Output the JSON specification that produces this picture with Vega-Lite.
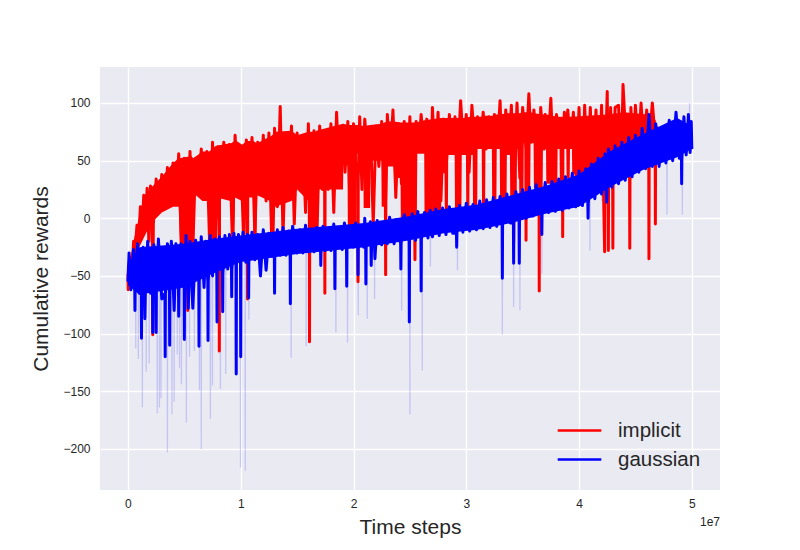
{"$schema":"https://vega.github.io/schema/vega-lite/v6.json","autosize":"none","width":620,"height":423,"padding":{"left":100,"top":67,"right":80,"bottom":60},"background":"white","config":{"view":{"fill":"#EAEAF2","stroke":null},"font":"Liberation Sans","axis":{"domain":false,"ticks":false,"grid":true,"gridColor":"white","gridWidth":1.3,"labelColor":"#262626","labelFontSize":12,"titleColor":"#262626","titleFontSize":21,"titleFontWeight":"normal","labelFont":"Liberation Sans","titleFont":"Liberation Sans"}},
"datasets":{
"thin":[{"x":0.067,"y":-40},{"x":0.069,"y":-113},{"x":0.071,"y":-40},{"x":0.09,"y":-40},{"x":0.092,"y":-122},{"x":0.094,"y":-40},{"x":0.126,"y":-40},{"x":0.128,"y":-164},{"x":0.13,"y":-40},{"x":0.16,"y":-40},{"x":0.162,"y":-133},{"x":0.164,"y":-40},{"x":0.186,"y":-40},{"x":0.188,"y":-126},{"x":0.19,"y":-40},{"x":0.258,"y":-40},{"x":0.26,"y":-169},{"x":0.262,"y":-40},{"x":0.277,"y":-40},{"x":0.279,"y":-164},{"x":0.281,"y":-40},{"x":0.291,"y":-40},{"x":0.293,"y":-156},{"x":0.295,"y":-40},{"x":0.348,"y":-40},{"x":0.35,"y":-203},{"x":0.352,"y":-40},{"x":0.388,"y":-40},{"x":0.39,"y":-170},{"x":0.392,"y":-40},{"x":0.408,"y":-40},{"x":0.41,"y":-159},{"x":0.412,"y":-40},{"x":0.435,"y":-40},{"x":0.437,"y":-118},{"x":0.439,"y":-40},{"x":0.455,"y":-40},{"x":0.457,"y":-130},{"x":0.459,"y":-40},{"x":0.472,"y":-40},{"x":0.474,"y":-144},{"x":0.476,"y":-40},{"x":0.516,"y":-40},{"x":0.518,"y":-177},{"x":0.52,"y":-40},{"x":0.544,"y":-40},{"x":0.546,"y":-120},{"x":0.548,"y":-40},{"x":0.587,"y":-40},{"x":0.589,"y":-115},{"x":0.591,"y":-40},{"x":0.632,"y":-40},{"x":0.634,"y":-149},{"x":0.636,"y":-40},{"x":0.648,"y":-40},{"x":0.65,"y":-200},{"x":0.652,"y":-40},{"x":0.729,"y":-30},{"x":0.731,"y":-174},{"x":0.733,"y":-30},{"x":0.747,"y":-30},{"x":0.749,"y":-145},{"x":0.751,"y":-30},{"x":0.818,"y":-30},{"x":0.82,"y":-148},{"x":0.822,"y":-30},{"x":0.865,"y":-30},{"x":0.867,"y":-135},{"x":0.869,"y":-30},{"x":0.951,"y":-30},{"x":0.953,"y":-118},{"x":0.955,"y":-30},{"x":0.996,"y":-25},{"x":0.998,"y":-216},{"x":1.0,"y":-25},{"x":1.038,"y":-25},{"x":1.04,"y":-219},{"x":1.042,"y":-25},{"x":1.07,"y":-25},{"x":1.072,"y":-88},{"x":1.074,"y":-25},{"x":1.445,"y":-20},{"x":1.447,"y":-121},{"x":1.449,"y":-20},{"x":1.578,"y":-20},{"x":1.58,"y":-111},{"x":1.582,"y":-20},{"x":1.842,"y":-20},{"x":1.844,"y":-99},{"x":1.846,"y":-20},{"x":1.945,"y":-20},{"x":1.947,"y":-108},{"x":1.949,"y":-20},{"x":2.04,"y":-15},{"x":2.042,"y":-84},{"x":2.044,"y":-15},{"x":2.12,"y":-15},{"x":2.122,"y":-87},{"x":2.124,"y":-15},{"x":2.185,"y":-15},{"x":2.187,"y":-70},{"x":2.189,"y":-15},{"x":2.425,"y":-10},{"x":2.427,"y":-80},{"x":2.429,"y":-10},{"x":2.498,"y":-10},{"x":2.5,"y":-170},{"x":2.502,"y":-10},{"x":2.608,"y":-5},{"x":2.61,"y":-132},{"x":2.612,"y":-5},{"x":2.68,"y":-5},{"x":2.682,"y":-42},{"x":2.684,"y":-5},{"x":2.92,"y":0},{"x":2.922,"y":-45},{"x":2.924,"y":0},{"x":3.318,"y":10},{"x":3.32,"y":-101},{"x":3.322,"y":10},{"x":3.418,"y":10},{"x":3.42,"y":-77},{"x":3.422,"y":10},{"x":3.474,"y":15},{"x":3.476,"y":-80},{"x":3.478,"y":15},{"x":3.668,"y":20},{"x":3.67,"y":-48},{"x":3.672,"y":20},{"x":4.095,"y":35},{"x":4.097,"y":-28},{"x":4.099,"y":35},{"x":4.2,"y":50},{"x":4.202,"y":15},{"x":4.204,"y":50},{"x":4.4,"y":60},{"x":4.402,"y":82},{"x":4.404,"y":60},{"x":4.55,"y":60},{"x":4.552,"y":92},{"x":4.554,"y":60},{"x":4.778,"y":70},{"x":4.78,"y":3},{"x":4.782,"y":70},{"x":4.914,"y":70},{"x":4.916,"y":3},{"x":4.918,"y":70},{"x":4.978,"y":70},{"x":4.98,"y":100},{"x":4.982,"y":70}],
"redband":[{"x":0,"y":-45,"y2":-55},{"x":0.05,"y":-20,"y2":-45},{"x":0.1,"y":2,"y2":-25},{"x":0.15,"y":20,"y2":-15},{"x":0.2,"y":26,"y2":-5},{"x":0.3,"y":36,"y2":5},{"x":0.4,"y":48,"y2":10},{"x":0.45,"y":52,"y2":10},{"x":0.46,"y":52,"y2":-22},{"x":0.56,"y":54,"y2":-25},{"x":0.58,"y":52,"y2":22},{"x":0.66,"y":58,"y2":15},{"x":0.715,"y":58,"y2":15},{"x":0.72,"y":58,"y2":-25},{"x":0.78,"y":63,"y2":-25},{"x":0.785,"y":63,"y2":18},{"x":0.91,"y":65,"y2":15},{"x":0.915,"y":65,"y2":-15},{"x":0.945,"y":67,"y2":-15},{"x":0.95,"y":68,"y2":18},{"x":1.01,"y":64,"y2":15},{"x":1.015,"y":64,"y2":-22},{"x":1.04,"y":66,"y2":-22},{"x":1.045,"y":67,"y2":18},{"x":1.11,"y":67,"y2":18},{"x":1.115,"y":67,"y2":-15},{"x":1.14,"y":65,"y2":-15},{"x":1.145,"y":65,"y2":20},{"x":1.26,"y":71,"y2":15},{"x":1.265,"y":71,"y2":-15},{"x":1.3,"y":74,"y2":-15},{"x":1.305,"y":75,"y2":10},{"x":1.45,"y":76,"y2":15},{"x":1.5,"y":72,"y2":25},{"x":1.6,"y":75,"y2":15},{"x":1.605,"y":75,"y2":-15},{"x":1.667,"y":75,"y2":-15},{"x":1.67,"y":76,"y2":25},{"x":1.907,"y":82,"y2":25},{"x":1.91,"y":82,"y2":46},{"x":1.947,"y":81,"y2":46},{"x":1.95,"y":81,"y2":-10},{"x":2.027,"y":81,"y2":-10},{"x":2.03,"y":81,"y2":56},{"x":2.087,"y":80,"y2":56},{"x":2.09,"y":80,"y2":9},{"x":2.147,"y":81,"y2":9},{"x":2.15,"y":81,"y2":50},{"x":2.247,"y":82,"y2":50},{"x":2.25,"y":82,"y2":10},{"x":2.297,"y":84,"y2":10},{"x":2.3,"y":84,"y2":45},{"x":2.357,"y":84,"y2":45},{"x":2.36,"y":84,"y2":35},{"x":2.417,"y":83,"y2":35},{"x":2.42,"y":83,"y2":-3},{"x":2.557,"y":83,"y2":-3},{"x":2.56,"y":83,"y2":56},{"x":2.627,"y":85,"y2":56},{"x":2.63,"y":85,"y2":3},{"x":2.777,"y":87,"y2":3},{"x":2.78,"y":87,"y2":39},{"x":2.807,"y":87,"y2":39},{"x":2.81,"y":87,"y2":3},{"x":2.837,"y":87,"y2":3},{"x":2.84,"y":87,"y2":55},{"x":2.897,"y":87,"y2":55},{"x":2.9,"y":87,"y2":8},{"x":2.957,"y":87,"y2":8},{"x":2.96,"y":87,"y2":55},{"x":2.997,"y":87,"y2":55},{"x":3.0,"y":87,"y2":8},{"x":3.027,"y":88,"y2":8},{"x":3.03,"y":88,"y2":55},{"x":3.057,"y":88,"y2":55},{"x":3.06,"y":88,"y2":10},{"x":3.097,"y":88,"y2":10},{"x":3.1,"y":88,"y2":60},{"x":3.137,"y":88,"y2":60},{"x":3.14,"y":88,"y2":12},{"x":3.167,"y":89,"y2":12},{"x":3.17,"y":89,"y2":60},{"x":3.227,"y":89,"y2":60},{"x":3.23,"y":89,"y2":15},{"x":3.267,"y":90,"y2":15},{"x":3.27,"y":90,"y2":60},{"x":3.297,"y":90,"y2":60},{"x":3.3,"y":90,"y2":15},{"x":3.357,"y":91,"y2":15},{"x":3.36,"y":91,"y2":55},{"x":3.387,"y":91,"y2":55},{"x":3.39,"y":91,"y2":18},{"x":3.447,"y":91,"y2":18},{"x":3.45,"y":91,"y2":60},{"x":3.467,"y":91,"y2":60},{"x":3.47,"y":91,"y2":22},{"x":3.507,"y":92,"y2":22},{"x":3.51,"y":92,"y2":65},{"x":3.537,"y":92,"y2":65},{"x":3.54,"y":92,"y2":24},{"x":3.567,"y":92,"y2":24},{"x":3.57,"y":92,"y2":65},{"x":3.597,"y":91,"y2":65},{"x":3.6,"y":91,"y2":26},{"x":3.677,"y":90,"y2":26},{"x":3.68,"y":90,"y2":60},{"x":3.707,"y":90,"y2":60},{"x":3.71,"y":90,"y2":30},{"x":3.807,"y":88,"y2":30},{"x":3.81,"y":88,"y2":60},{"x":3.827,"y":88,"y2":60},{"x":3.83,"y":88,"y2":32},{"x":3.857,"y":88,"y2":32},{"x":3.86,"y":88,"y2":60},{"x":3.887,"y":88,"y2":60},{"x":3.89,"y":88,"y2":35},{"x":3.917,"y":88,"y2":35},{"x":3.92,"y":88,"y2":60},{"x":3.937,"y":88,"y2":60},{"x":3.94,"y":88,"y2":38},{"x":4.25,"y":90,"y2":40},{"x":4.4,"y":92,"y2":50},{"x":4.6,"y":90,"y2":62},{"x":4.68,"y":85,"y2":70}],
"blueband":[{"x":0,"y":-40,"y2":-58},{"x":0.1,"y":-25,"y2":-66},{"x":0.5,"y":-22,"y2":-60},{"x":0.75,"y":-18,"y2":-48},{"x":1,"y":-15,"y2":-38},{"x":1.5,"y":-9,"y2":-31},{"x":2.1,"y":-4,"y2":-25},{"x":2.5,"y":2,"y2":-19},{"x":2.8,"y":8,"y2":-13},{"x":3.1,"y":12,"y2":-10},{"x":3.4,"y":20,"y2":-4},{"x":3.7,"y":28,"y2":4},{"x":4,"y":38,"y2":10},{"x":4.27,"y":58,"y2":27},{"x":4.57,"y":73,"y2":42},{"x":4.87,"y":87,"y2":53},{"x":5,"y":80,"y2":60}],
"red":[{"x":0,"y":-48},{"x":0.002,"y":-62},{"x":0.004,"y":-42},{"x":0.02,"y":-34},{"x":0.035,"y":-50},{"x":0.05,"y":-20},{"x":0.065,"y":-25},{"x":0.08,"y":-6},{"x":0.095,"y":-22},{"x":0.11,"y":10},{"x":0.125,"y":-8},{"x":0.14,"y":20},{"x":0.155,"y":-3},{"x":0.17,"y":26},{"x":0.185,"y":-20},{"x":0.2,"y":28},{"x":0.215,"y":-5},{"x":0.22,"y":-101},{"x":0.225,"y":-5},{"x":0.25,"y":34},{"x":0.275,"y":8},{"x":0.3,"y":38},{"x":0.325,"y":8},{"x":0.35,"y":44},{"x":0.375,"y":12},{"x":0.4,"y":48},{"x":0.425,"y":12},{"x":0.45,"y":56},{"x":0.475,"y":-25},{"x":0.5,"y":52},{"x":0.525,"y":-25},{"x":0.53,"y":-80},{"x":0.535,"y":-25},{"x":0.55,"y":58},{"x":0.575,"y":-28},{"x":0.6,"y":52},{"x":0.625,"y":22},{"x":0.65,"y":60},{"x":0.675,"y":18},{"x":0.7,"y":58},{"x":0.725,"y":-25},{"x":0.75,"y":66},{"x":0.775,"y":-20},{"x":0.8,"y":62},{"x":0.808,"y":18},{"x":0.81,"y":-115},{"x":0.812,"y":18},{"x":0.85,"y":66},{"x":0.875,"y":18},{"x":0.9,"y":64},{"x":0.925,"y":-15},{"x":0.95,"y":72},{"x":0.975,"y":20},{"x":1.0,"y":62},{"x":1.025,"y":-20},{"x":1.05,"y":68},{"x":1.058,"y":20},{"x":1.06,"y":-70},{"x":1.062,"y":20},{"x":1.1,"y":70},{"x":1.125,"y":-15},{"x":1.15,"y":66},{"x":1.175,"y":25},{"x":1.2,"y":72},{"x":1.225,"y":15},{"x":1.25,"y":74},{"x":1.275,"y":-20},{"x":1.3,"y":78},{"x":1.325,"y":10},{"x":1.35,"y":97},{"x":1.375,"y":-15},{"x":1.4,"y":70},{"x":1.425,"y":20},{"x":1.45,"y":80},{"x":1.475,"y":-5},{"x":1.5,"y":74},{"x":1.525,"y":30},{"x":1.55,"y":70},{"x":1.575,"y":5},{"x":1.6,"y":82},{"x":1.608,"y":20},{"x":1.61,"y":-107},{"x":1.612,"y":20},{"x":1.65,"y":76},{"x":1.675,"y":-20},{"x":1.7,"y":80},{"x":1.725,"y":25},{"x":1.744,"y":25},{"x":1.746,"y":-65},{"x":1.748,"y":25},{"x":1.76,"y":74},{"x":1.775,"y":25},{"x":1.8,"y":82},{"x":1.825,"y":5},{"x":1.85,"y":92},{"x":1.875,"y":30},{"x":1.9,"y":78},{"x":1.925,"y":40},{"x":1.95,"y":84},{"x":1.975,"y":-15},{"x":2.0,"y":82},{"x":2.025,"y":35},{"x":2.038,"y":35},{"x":2.04,"y":-55},{"x":2.042,"y":35},{"x":2.055,"y":88},{"x":2.075,"y":25},{"x":2.1,"y":86},{"x":2.125,"y":50},{"x":2.15,"y":78},{"x":2.175,"y":-5},{"x":2.2,"y":80},{"x":2.225,"y":45},{"x":2.25,"y":84},{"x":2.275,"y":15},{"x":2.283,"y":15},{"x":2.285,"y":-49},{"x":2.287,"y":15},{"x":2.3,"y":90},{"x":2.325,"y":50},{"x":2.35,"y":94},{"x":2.375,"y":18},{"x":2.4,"y":82},{"x":2.425,"y":30},{"x":2.45,"y":84},{"x":2.475,"y":25},{"x":2.5,"y":88},{"x":2.525,"y":-10},{"x":2.543,"y":-10},{"x":2.545,"y":-36},{"x":2.547,"y":-10},{"x":2.555,"y":84},{"x":2.575,"y":58},{"x":2.6,"y":90},{"x":2.625,"y":58},{"x":2.65,"y":86},{"x":2.675,"y":0},{"x":2.7,"y":96},{"x":2.725,"y":45},{"x":2.75,"y":92},{"x":2.775,"y":15},{"x":2.8,"y":86},{"x":2.825,"y":50},{"x":2.85,"y":90},{"x":2.875,"y":60},{"x":2.9,"y":88},{"x":2.925,"y":52},{"x":2.95,"y":102},{"x":2.975,"y":60},{"x":3.0,"y":90},{"x":3.025,"y":40},{"x":3.05,"y":98},{"x":3.075,"y":62},{"x":3.1,"y":88},{"x":3.125,"y":62},{"x":3.15,"y":92},{"x":3.175,"y":60},{"x":3.2,"y":88},{"x":3.225,"y":62},{"x":3.25,"y":90},{"x":3.275,"y":62},{"x":3.3,"y":102},{"x":3.325,"y":20},{"x":3.35,"y":94},{"x":3.375,"y":58},{"x":3.4,"y":98},{"x":3.418,"y":30},{"x":3.42,"y":-21},{"x":3.422,"y":30},{"x":3.45,"y":100},{"x":3.475,"y":35},{"x":3.5,"y":96},{"x":3.525,"y":66},{"x":3.528,"y":60},{"x":3.53,"y":-19},{"x":3.532,"y":60},{"x":3.555,"y":108},{"x":3.575,"y":66},{"x":3.6,"y":94},{"x":3.625,"y":50},{"x":3.645,"y":50},{"x":3.647,"y":-63},{"x":3.649,"y":50},{"x":3.66,"y":96},{"x":3.69,"y":60},{"x":3.7,"y":90},{"x":3.725,"y":60},{"x":3.75,"y":104},{"x":3.775,"y":40},{"x":3.8,"y":90},{"x":3.82,"y":62},{"x":3.853,"y":60},{"x":3.855,"y":-16},{"x":3.857,"y":60},{"x":3.87,"y":92},{"x":3.875,"y":62},{"x":3.9,"y":94},{"x":3.925,"y":62},{"x":3.95,"y":92},{"x":3.975,"y":35},{"x":4.0,"y":96},{"x":4.025,"y":25},{"x":4.05,"y":98},{"x":4.075,"y":30},{"x":4.1,"y":96},{"x":4.125,"y":30},{"x":4.15,"y":94},{"x":4.175,"y":40},{"x":4.2,"y":98},{"x":4.215,"y":35},{"x":4.227,"y":-29},{"x":4.229,"y":35},{"x":4.25,"y":110},{"x":4.258,"y":30},{"x":4.26,"y":-28},{"x":4.262,"y":30},{"x":4.28,"y":96},{"x":4.298,"y":40},{"x":4.3,"y":-26},{"x":4.302,"y":40},{"x":4.32,"y":96},{"x":4.35,"y":98},{"x":4.375,"y":45},{"x":4.39,"y":116},{"x":4.425,"y":50},{"x":4.448,"y":45},{"x":4.45,"y":-26},{"x":4.452,"y":45},{"x":4.46,"y":96},{"x":4.475,"y":45},{"x":4.5,"y":98},{"x":4.525,"y":55},{"x":4.55,"y":100},{"x":4.575,"y":60},{"x":4.6,"y":94},{"x":4.618,"y":65},{"x":4.62,"y":-35},{"x":4.622,"y":65},{"x":4.65,"y":100},{"x":4.675,"y":70},{"x":4.677,"y":-5},{"x":4.679,"y":70},{"x":4.69,"y":80}],
"blue":[{"x":0,"y":-55},{"x":0.01,"y":-30},{"x":0.025,"y":-62},{"x":0.05,"y":-27},{"x":0.06,"y":-60},{"x":0.062,"y":-80},{"x":0.064,"y":-60},{"x":0.085,"y":-22},{"x":0.1,"y":-65},{"x":0.118,"y":-60},{"x":0.12,"y":-104},{"x":0.122,"y":-60},{"x":0.135,"y":-25},{"x":0.145,"y":-60},{"x":0.15,"y":-87},{"x":0.155,"y":-60},{"x":0.175,"y":-20},{"x":0.2,"y":-65},{"x":0.218,"y":-62},{"x":0.22,"y":-99},{"x":0.222,"y":-62},{"x":0.23,"y":-23},{"x":0.248,"y":-62},{"x":0.25,"y":-99},{"x":0.252,"y":-62},{"x":0.27,"y":-18},{"x":0.3,"y":-70},{"x":0.328,"y":-65},{"x":0.33,"y":-120},{"x":0.332,"y":-65},{"x":0.35,"y":-22},{"x":0.368,"y":-65},{"x":0.37,"y":-110},{"x":0.372,"y":-65},{"x":0.385,"y":-20},{"x":0.41,"y":-80},{"x":0.425,"y":-22},{"x":0.448,"y":-62},{"x":0.45,"y":-85},{"x":0.452,"y":-62},{"x":0.47,"y":-22},{"x":0.498,"y":-60},{"x":0.5,"y":-105},{"x":0.502,"y":-60},{"x":0.515,"y":-15},{"x":0.535,"y":-78},{"x":0.55,"y":-20},{"x":0.575,"y":-78},{"x":0.6,"y":-19},{"x":0.628,"y":-55},{"x":0.63,"y":-111},{"x":0.632,"y":-55},{"x":0.65,"y":-16},{"x":0.675,"y":-60},{"x":0.69,"y":-20},{"x":0.708,"y":-55},{"x":0.71,"y":-106},{"x":0.712,"y":-55},{"x":0.73,"y":-15},{"x":0.75,"y":-50},{"x":0.77,"y":-18},{"x":0.788,"y":-50},{"x":0.79,"y":-90},{"x":0.792,"y":-50},{"x":0.81,"y":-16},{"x":0.838,"y":-48},{"x":0.84,"y":-81},{"x":0.842,"y":-48},{"x":0.86,"y":-15},{"x":0.885,"y":-44},{"x":0.9,"y":-14},{"x":0.918,"y":-44},{"x":0.92,"y":-68},{"x":0.922,"y":-44},{"x":0.94,"y":-13},{"x":0.958,"y":-40},{"x":0.96,"y":-135},{"x":0.962,"y":-40},{"x":0.98,"y":-14},{"x":0.998,"y":-38},{"x":1.0,"y":-120},{"x":1.002,"y":-38},{"x":1.02,"y":-12},{"x":1.045,"y":-38},{"x":1.06,"y":-14},{"x":1.068,"y":-38},{"x":1.07,"y":-69},{"x":1.072,"y":-38},{"x":1.1,"y":-12},{"x":1.125,"y":-36},{"x":1.15,"y":-14},{"x":1.175,"y":-50},{"x":1.2,"y":-10},{"x":1.225,"y":-45},{"x":1.25,"y":-13},{"x":1.275,"y":-33},{"x":1.298,"y":-33},{"x":1.3,"y":-65},{"x":1.302,"y":-33},{"x":1.325,"y":-10},{"x":1.35,"y":-32},{"x":1.375,"y":-8},{"x":1.4,"y":-32},{"x":1.425,"y":-11},{"x":1.438,"y":-31},{"x":1.44,"y":-74},{"x":1.442,"y":-31},{"x":1.46,"y":-7},{"x":1.5,"y":-30},{"x":1.525,"y":-10},{"x":1.55,"y":-30},{"x":1.575,"y":-6},{"x":1.6,"y":-29},{"x":1.625,"y":-10},{"x":1.65,"y":-29},{"x":1.675,"y":-8},{"x":1.708,"y":-29},{"x":1.71,"y":-41},{"x":1.712,"y":-29},{"x":1.73,"y":-7},{"x":1.75,"y":-28},{"x":1.775,"y":-9},{"x":1.8,"y":-28},{"x":1.825,"y":-5},{"x":1.833,"y":-28},{"x":1.835,"y":-61},{"x":1.837,"y":-28},{"x":1.86,"y":-8},{"x":1.9,"y":-27},{"x":1.92,"y":-4},{"x":1.938,"y":-27},{"x":1.94,"y":-59},{"x":1.942,"y":-27},{"x":1.96,"y":-7},{"x":2.0,"y":-25},{"x":2.02,"y":-4},{"x":2.038,"y":-25},{"x":2.04,"y":-49},{"x":2.042,"y":-25},{"x":2.07,"y":-6},{"x":2.09,"y":-25},{"x":2.1,"y":0},{"x":2.108,"y":-25},{"x":2.11,"y":-57},{"x":2.112,"y":-25},{"x":2.15,"y":-3},{"x":2.155,"y":-25},{"x":2.157,"y":-41},{"x":2.16,"y":-25},{"x":2.18,"y":-5},{"x":2.19,"y":-35},{"x":2.21,"y":-2},{"x":2.25,"y":-23},{"x":2.28,"y":-3},{"x":2.3,"y":-22},{"x":2.32,"y":1},{"x":2.36,"y":-22},{"x":2.38,"y":-1},{"x":2.418,"y":-22},{"x":2.42,"y":-44},{"x":2.422,"y":-22},{"x":2.45,"y":3},{"x":2.493,"y":-20},{"x":2.495,"y":-90},{"x":2.497,"y":-20},{"x":2.52,"y":4},{"x":2.55,"y":-19},{"x":2.57,"y":6},{"x":2.598,"y":-18},{"x":2.6,"y":-63},{"x":2.602,"y":-18},{"x":2.63,"y":5},{"x":2.66,"y":-17},{"x":2.68,"y":7},{"x":2.7,"y":-16},{"x":2.73,"y":8},{"x":2.76,"y":-15},{"x":2.79,"y":9},{"x":2.82,"y":-14},{"x":2.85,"y":10},{"x":2.88,"y":-13},{"x":2.913,"y":-13},{"x":2.915,"y":-25},{"x":2.917,"y":-13},{"x":2.94,"y":11},{"x":2.97,"y":-12},{"x":3.0,"y":13},{"x":3.03,"y":-11},{"x":3.06,"y":12},{"x":3.09,"y":-10},{"x":3.12,"y":15},{"x":3.15,"y":-9},{"x":3.18,"y":16},{"x":3.21,"y":-8},{"x":3.24,"y":18},{"x":3.27,"y":-7},{"x":3.3,"y":19},{"x":3.318,"y":-6},{"x":3.32,"y":-52},{"x":3.322,"y":-6},{"x":3.36,"y":21},{"x":3.39,"y":-4},{"x":3.418,"y":-4},{"x":3.42,"y":-39},{"x":3.422,"y":-4},{"x":3.44,"y":23},{"x":3.468,"y":-2},{"x":3.47,"y":-39},{"x":3.472,"y":-2},{"x":3.5,"y":25},{"x":3.53,"y":0},{"x":3.56,"y":27},{"x":3.59,"y":2},{"x":3.62,"y":29},{"x":3.668,"y":3},{"x":3.67,"y":-14},{"x":3.672,"y":3},{"x":3.7,"y":31},{"x":3.73,"y":5},{"x":3.76,"y":32},{"x":3.79,"y":6},{"x":3.82,"y":34},{"x":3.85,"y":7},{"x":3.88,"y":36},{"x":3.91,"y":9},{"x":3.94,"y":39},{"x":3.97,"y":10},{"x":4.0,"y":41},{"x":4.03,"y":11},{"x":4.06,"y":43},{"x":4.078,"y":13},{"x":4.08,"y":0},{"x":4.082,"y":13},{"x":4.11,"y":47},{"x":4.14,"y":17},{"x":4.17,"y":52},{"x":4.2,"y":21},{"x":4.23,"y":56},{"x":4.245,"y":14},{"x":4.26,"y":60},{"x":4.29,"y":27},{"x":4.32,"y":63},{"x":4.35,"y":30},{"x":4.38,"y":66},{"x":4.41,"y":33},{"x":4.44,"y":70},{"x":4.47,"y":36},{"x":4.5,"y":72},{"x":4.53,"y":40},{"x":4.56,"y":78},{"x":4.59,"y":43},{"x":4.62,"y":90},{"x":4.65,"y":45},{"x":4.68,"y":82},{"x":4.71,"y":45},{"x":4.74,"y":78},{"x":4.77,"y":48},{"x":4.8,"y":85},{"x":4.83,"y":50},{"x":4.86,"y":92},{"x":4.89,"y":52},{"x":4.908,"y":52},{"x":4.91,"y":30},{"x":4.912,"y":52},{"x":4.93,"y":88},{"x":4.95,"y":55},{"x":4.97,"y":90},{"x":4.985,"y":57},{"x":4.995,"y":84},{"x":5.0,"y":60}],
"note":[{"x":5.25,"y":-235.6,"label":"1e7"}]},
"layer":[
{"data":{"name":"thin"},"mark":{"type":"line","stroke":"#0000ff","strokeWidth":1.3,"opacity":0.16},"encoding":{"x":{"field":"x","type":"quantitative","scale":{"domain":[-0.248,5.25],"nice":false,"zero":false},"axis":{"title":"Time steps","values":[0,1,2,3,4,5],"format":"d","labelPadding":8,"titlePadding":7}},"y":{"field":"y","type":"quantitative","scale":{"domain":[-235.6,131.2],"nice":false,"zero":false},"axis":{"title":"Cumulative rewards","values":[-200,-150,-100,-50,0,50,100],"format":"d","labelPadding":10,"titlePadding":11}}}},
{"data":{"name":"redband"},"mark":{"type":"area","color":"#ff0000"},"encoding":{"x":{"field":"x","type":"quantitative"},"y":{"field":"y","type":"quantitative"},"y2":{"field":"y2"}}},
{"data":{"name":"red"},"mark":{"type":"line","strokeWidth":3,"strokeJoin":"round"},"encoding":{"x":{"field":"x","type":"quantitative"},"y":{"field":"y","type":"quantitative"},"color":{"datum":"implicit","scale":{"domain":["implicit","gaussian"],"range":["#ff0000","#0000ff"]},"legend":{"title":null,"orient":"none","legendX":456,"legendY":349,"symbolType":"stroke","symbolSize":529,"symbolStrokeWidth":2.5,"labelFontSize":20.5,"labelColor":"#262626","labelOffset":15,"rowPadding":0,"clipHeight":29,"labelFont":"Liberation Sans","encode":{"symbols":{"update":{"size":{"value":1900}}}}}}}},
{"data":{"name":"blueband"},"mark":{"type":"area","color":"#0000ff"},"encoding":{"x":{"field":"x","type":"quantitative"},"y":{"field":"y","type":"quantitative"},"y2":{"field":"y2"}}},
{"data":{"name":"blue"},"mark":{"type":"line","strokeWidth":3,"strokeJoin":"round"},"encoding":{"x":{"field":"x","type":"quantitative"},"y":{"field":"y","type":"quantitative"},"color":{"datum":"gaussian"}}},
{"data":{"name":"note"},"mark":{"type":"text","align":"right","baseline":"middle","dy":32,"fontSize":12,"color":"#262626"},"encoding":{"x":{"field":"x","type":"quantitative"},"y":{"field":"y","type":"quantitative"},"text":{"field":"label"}}}
]}
